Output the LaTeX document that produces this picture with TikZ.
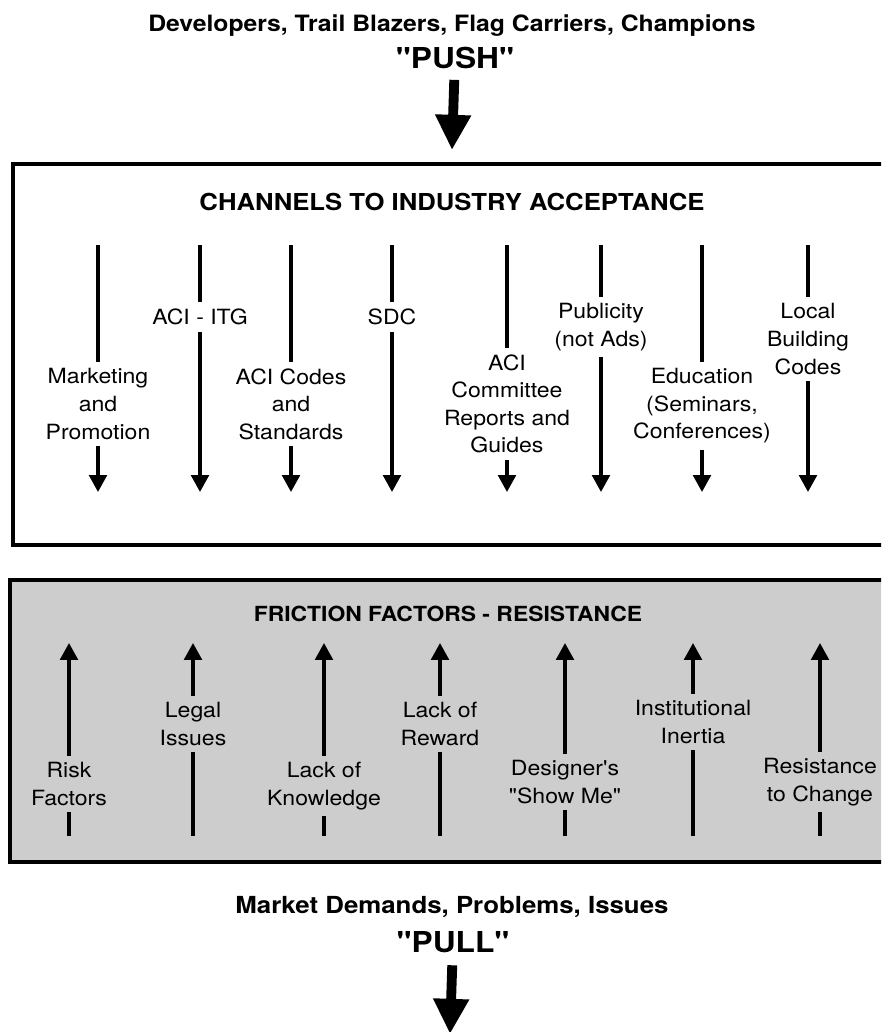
\documentclass[tikz,border=0pt]{standalone}
\usepackage{fontspec}
\defaultfontfeatures[\rmfamily,\sffamily]{}
\setmainfont[FakeStretch=1.1]{TeX Gyre Heros}
\usetikzlibrary{positioning,arrows.meta}
\definecolor{frictiongray}{HTML}{CDCDCD}
\tikzset{
  lbl/.style={align=center, font=\fontsize{14.9}{19.6}\selectfont, inner xsep=1pt, inner ysep=4.5pt},
  head/.style={anchor=base, inner sep=0pt},
  headsmall/.style={font=\bfseries\fontsize{16}{19}\selectfont},
  headbig/.style={font=\bfseries\fontsize{20.5}{24}\selectfont},
  chan/.style={line width=2.4pt},
  chanarrow/.style={line width=2.4pt, -{Triangle[length=12pt,width=12.5pt]}},
  bigarrow/.style={line width=7pt, -{Triangle[length=25pt,width=24pt]}},
  framebox/.style={line width=2.4pt}
}
\begin{document}
\begin{tikzpicture}[x=0.025cm, y=-0.025cm]
\clip (0,0) rectangle (881,1032);
% push
\node [head, headsmall] (who) at (452,31) {Developers, Trail Blazers, Flag Carriers, Champions};
\node [head, headbig] (push) at (455,68) {"PUSH"};
\coordinate (pushtip) at (452,150);
\draw [bigarrow, shorten <=8pt] (push) -- (pushtip);
% channels box
\draw [framebox] (13,164) rectangle (895,545);
\node [head, font=\bfseries\fontsize{16.6}{20}\selectfont] (chanhead) at (452,210) {CHANNELS TO INDUSTRY ACCEPTANCE};
\coordinate (c1) at (98,245);   \coordinate (c1e) at (98,492);
\coordinate (c2) at (200,245);  \coordinate (c2e) at (200,492);
\coordinate (c3) at (291,245);  \coordinate (c3e) at (291,492);
\coordinate (c4) at (392,245);  \coordinate (c4e) at (392,492);
\coordinate (c5) at (507,245);  \coordinate (c5e) at (507,492);
\coordinate (c6) at (601,245);  \coordinate (c6e) at (601,492);
\coordinate (c7) at (702,245);  \coordinate (c7e) at (702,492);
\coordinate (c8) at (808,245);  \coordinate (c8e) at (808,492);
\node [lbl] (mkt) at (98,404) {Marketing\\and\\Promotion};          \node [lbl] (itg) at (200,317) {ACI - ITG};
\node [lbl] (codes) at (291,404) {ACI Codes\\and\\Standards};       \node [lbl] (sdc) at (392,317) {SDC};
\node [lbl] (cmte) at (507,404) {ACI\\Committee\\Reports and\\Guides}; \node [lbl] (pub) at (601,327) {Publicity\\(not Ads)};
\node [lbl] (edu) at (702,406) {Education\\(Seminars,\\Conferences)}; \node [lbl] (local) at (808,339) {Local\\Building\\Codes};
\draw [chan] (c1) -- (mkt);    \draw [chanarrow] (mkt) -- (c1e);
\draw [chan] (c2) -- (itg);    \draw [chanarrow] (itg) -- (c2e);
\draw [chan] (c3) -- (codes);  \draw [chanarrow] (codes) -- (c3e);
\draw [chan] (c4) -- (sdc);    \draw [chanarrow] (sdc) -- (c4e);
\draw [chan] (c5) -- (cmte);   \draw [chanarrow] (cmte) -- (c5e);
\draw [chan] (c6) -- (pub);    \draw [chanarrow] (pub) -- (c6e);
\draw [chan] (c7) -- (edu);    \draw [chanarrow] (edu) -- (c7e);
\draw [chan] (c8) -- (local);  \draw [chanarrow] (local) -- (c8e);
% friction box
\draw [framebox, fill=frictiongray] (10,580) rectangle (895,862);
\node [head, font=\bfseries\fontsize{14.8}{18}\selectfont] (frichead) at (448,621) {FRICTION FACTORS - RESISTANCE};
\coordinate (f1) at (69,643);   \coordinate (f1b) at (69,836);
\coordinate (f2) at (193,643);  \coordinate (f2b) at (193,836);
\coordinate (f3) at (324,643);  \coordinate (f3b) at (324,836);
\coordinate (f4) at (440,643);  \coordinate (f4b) at (440,836);
\coordinate (f5) at (565,643);  \coordinate (f5b) at (565,836);
\coordinate (f6) at (693,643);  \coordinate (f6b) at (693,836);
\coordinate (f7) at (820,643);  \coordinate (f7b) at (820,836);
\node [lbl] (risk) at (69,784) {Risk\\Factors};               \node [lbl] (legal) at (193,724) {Legal\\Issues};
\node [lbl] (know) at (324,786) {Lack of\\Knowledge};        \node [lbl] (reward) at (440,724) {Lack of\\Reward};
\node [lbl] (showme) at (565,782) {Designer's\\"Show Me"};   \node [lbl] (inertia) at (693,722) {Institutional\\Inertia};
\node [lbl] (change) at (820,782) {Resistance\\to Change};
\draw [chan] (f1b) -- (risk);     \draw [chanarrow] (risk) -- (f1);
\draw [chan] (f2b) -- (legal);    \draw [chanarrow] (legal) -- (f2);
\draw [chan] (f3b) -- (know);     \draw [chanarrow] (know) -- (f3);
\draw [chan] (f4b) -- (reward);   \draw [chanarrow] (reward) -- (f4);
\draw [chan] (f5b) -- (showme);   \draw [chanarrow] (showme) -- (f5);
\draw [chan] (f6b) -- (inertia);  \draw [chanarrow] (inertia) -- (f6);
\draw [chan] (f7b) -- (change);   \draw [chanarrow] (change) -- (f7);
% pull
\node [head, font=\bfseries\fontsize{16.7}{20}\selectfont] (market) at (452,913) {Market Demands, Problems, Issues};
\node [head, headbig] (pull) at (453,952) {"PULL"};
\coordinate (pulltip) at (450,1034);
\draw [bigarrow, shorten <=9pt] (pull) -- (pulltip);
\end{tikzpicture}
\end{document}
